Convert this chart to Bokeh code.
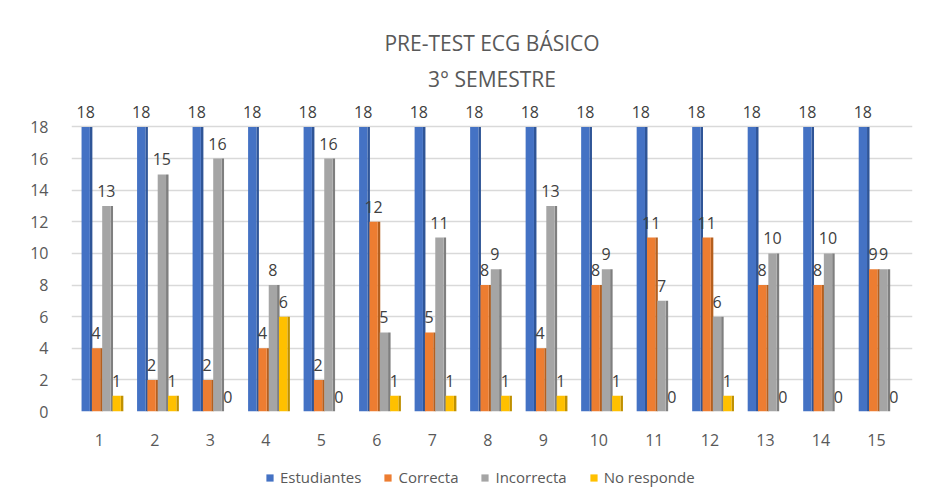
from bokeh.plotting import figure
from bokeh.layouts import column
from bokeh.models import (ColumnDataSource, Range1d, FixedTicker, Title, Legend, LegendItem)
from bokeh.transform import dodge
from bokeh.embed import file_html
from bokeh.resources import INLINE
from bokeh.core.properties import value

# ---- data ----
preguntas = [1, 2, 3, 4, 5, 6, 7, 8, 9, 10, 11, 12, 13, 14, 15]
estudiantes = [18, 18, 18, 18, 18, 18, 18, 18, 18, 18, 18, 18, 18, 18, 18]
correcta = [4, 2, 2, 4, 2, 12, 5, 8, 4, 8, 11, 11, 8, 8, 9]
incorrecta = [13, 15, 16, 8, 16, 5, 11, 9, 13, 9, 7, 6, 10, 10, 9]
no_responde = [1, 1, 0, 6, 0, 1, 1, 1, 1, 1, 0, 1, 0, 0, 0]
y_ticks = [0, 2, 4, 6, 8, 10, 12, 14, 16, 18]
series_names = ["Estudiantes", "Correcta", "Incorrecta", "No responde"]

source = ColumnDataSource(dict(
    x=preguntas,
    est=estudiantes, cor=correcta, inc=incorrecta, nr=no_responde,
    est_t=[str(v) for v in estudiantes],
    cor_t=[str(v) for v in correcta],
    inc_t=[str(v) for v in incorrecta],
    nr_t=[str(v) for v in no_responde],
))

TXT = "#595959"
FONT = "Open Sans"
WIDTH = 935

p = figure(width=WIDTH, height=450, output_backend="svg", toolbar_location=None,
           x_range=Range1d(0.5, 15.65), y_range=Range1d(0, 19.8),
           min_border_left=71, min_border_right=23, min_border_top=98,
           min_border_bottom=39)

p.title.text = "PRE-TEST ECG BÁSICO"
p.title.align = "center"
p.title.text_font = FONT
p.title.text_font_size = "21px"
p.title.text_font_style = "normal"
p.title.text_color = TXT
p.title.standoff = 0
p.add_layout(Title(text="3° SEMESTRE", align="center", text_font=FONT,
                   text_font_size="21px", text_font_style="normal",
                   text_color=TXT, standoff=12), "above")

p.outline_line_color = None
p.border_fill_color = "white"
p.background_fill_color = "white"

colors = ["#4472C4", "#ED7D31", "#A5A5A5", "#FFC000"]
sides = ["#2F5597", "#B45F1E", "#7F7F7F", "#BF9000"]
fields = ["est", "cor", "inc", "nr"]
offsets = [-0.244, -0.058, 0.128, 0.314]
W = 0.15
SW = 0.045

for f, c, s, off in zip(fields, colors, sides, offsets):
    p.vbar(x=dodge("x", off + W / 2 + SW / 2, range=p.x_range), top=f, bottom=0,
           width=SW, source=source, fill_color=s, line_color=None)
    p.vbar(x=dodge("x", off, range=p.x_range), top=f, bottom=0, width=W,
           source=source, fill_color=c, line_color=None)
    p.text(x=dodge("x", off, range=p.x_range), y=f, text=f + "_t", source=source,
           text_align="center", text_baseline="middle", y_offset=-15,
           text_font=value(FONT), text_font_size="16px", text_color="#404040")

p.xgrid.grid_line_color = None
p.ygrid.grid_line_color = "#D9D9D9"
p.ygrid.grid_line_width = 1.3

p.yaxis.ticker = FixedTicker(ticks=y_ticks)
p.xaxis.ticker = FixedTicker(ticks=preguntas)
for ax in (p.xaxis, p.yaxis):
    ax.axis_line_color = None
    ax.major_tick_line_color = None
    ax.minor_tick_line_color = None
    ax.major_label_text_font = FONT
    ax.major_label_text_font_size = "16px"
    ax.major_label_text_color = TXT
p.yaxis.major_label_standoff = 17
p.xaxis.major_label_standoff = 16

# ---- legend strip ----
lg = figure(width=WIDTH, height=45, output_backend="svg", toolbar_location=None,
            x_range=Range1d(100, 101), y_range=Range1d(100, 101),
            x_axis_type=None, y_axis_type=None,
            min_border_left=0, min_border_right=0, min_border_top=0,
            min_border_bottom=0)
lg.outline_line_color = None
lg.xgrid.visible = False
lg.ygrid.visible = False
items = []
for f, c, name in zip(fields, colors, series_names):
    r = lg.vbar(x="x", top=f, width=0.1, source=source, fill_color=c,
                line_color=None)
    items.append(LegendItem(label=name, renderers=[r]))
legend = Legend(items=items, orientation="horizontal", location=(194, 8),
                label_text_font=FONT, label_text_font_size="15px",
                label_text_color=TXT, glyph_width=9, glyph_height=9,
                label_standoff=6, spacing=22, border_line_color=None,
                background_fill_alpha=0, padding=2, margin=0)
lg.add_layout(legend, "center")

layout = column(p, lg, spacing=0)
open("out.html", "w").write(file_html(layout, INLINE))
